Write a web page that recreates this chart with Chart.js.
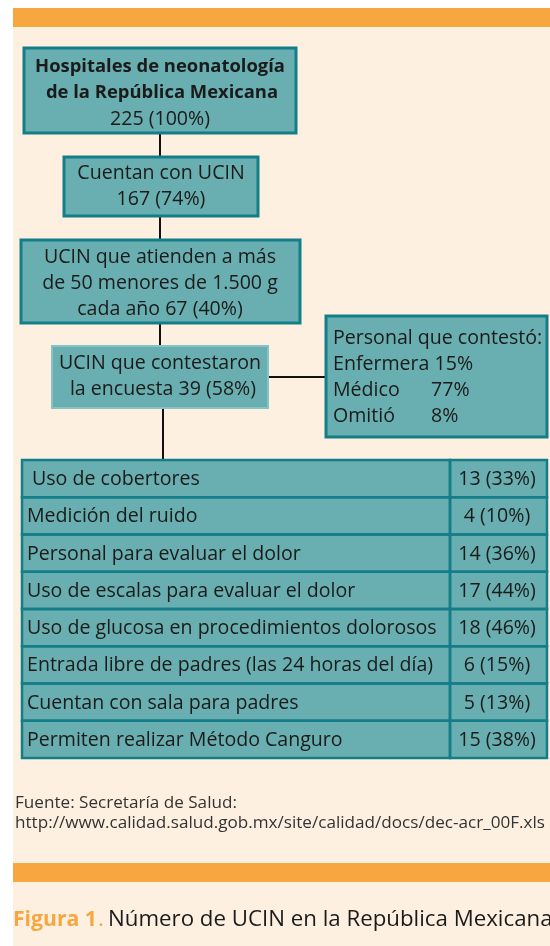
<!DOCTYPE html>
<html><head><meta charset="utf-8">
<script src="https://cdn.jsdelivr.net/npm/chart.js@4.4.1/dist/chart.umd.min.js"></script>
<style>html,body{margin:0;padding:0;background:#fff;overflow:hidden}canvas{display:block}</style>
</head><body>
<canvas id="c" width="550" height="946"></canvas>
<script>
// ---- data ----
const flowTitle = ['Hospitales de neonatología', 'de la República Mexicana'];
const flowLabels = [
  ['Cuentan con UCIN'],
  ['UCIN que atienden a más', 'de 50 menores de 1.500 g', 'cada año'],
  ['UCIN que contestaron', 'la encuesta']
];
const flowCounts = [225, 167, 67, 39];
const flowPercents = [100, 74, 40, 58];
const staffTitle = 'Personal que contestó:';
const staffLabels = ['Enfermera', 'Médico', 'Omitió'];
const staffPercents = [15, 77, 8];
const practiceLabels = [
  'Uso de cobertores',
  'Medición del ruido',
  'Personal para evaluar el dolor',
  'Uso de escalas para evaluar el dolor',
  'Uso de glucosa en procedimientos dolorosos',
  'Entrada libre de padres (las 24 horas del día)',
  'Cuentan con sala para padres',
  'Permiten realizar Método Canguro'
];
const practiceCounts = [13, 4, 14, 17, 18, 6, 5, 15];
const practicePercents = [33, 10, 36, 44, 46, 15, 13, 38];
const sourceLines = ['Fuente: Secretaría de Salud:', 'http://www.calidad.salud.gob.mx/site/calidad/docs/dec-acr_00F.xls'];
const captionLead = 'Figura 1';
const captionText = 'Número de UCIN en la República Mexicana';

// ---- style ----
const FONT = 'Open Sans';
const TEAL = '#69AEB0';
const TEAL_DARK = '#137E88';
const TEAL_LIGHT = '#86C3C4';
const CREAM = '#FEF0E1';
const ORANGE = '#F8A640';
const INK = '#1B1B1B';

function fontStr(size, weight) { return (weight || 'normal') + ' ' + size + 'px "' + FONT + '"'; }
function fitSize(ctx, s, target, weight) {
  ctx.font = fontStr(20, weight);
  return 20 * target / ctx.measureText(s).width;
}
function measure(ctx, s, size, weight) { ctx.font = fontStr(size, weight); return ctx.measureText(s).width; }
function box(ctx, x0, y0, x1, y1, border, lw) {
  ctx.fillStyle = TEAL;
  ctx.fillRect(x0, y0, x1 - x0, y1 - y0);
  ctx.strokeStyle = border;
  ctx.lineWidth = lw;
  ctx.strokeRect(x0, y0, x1 - x0, y1 - y0);
}
function text(ctx, s, x, y, size, align, weight, color) {
  ctx.font = fontStr(size, weight);
  ctx.fillStyle = color || INK;
  ctx.textAlign = align || 'center';
  ctx.textBaseline = 'middle';
  ctx.fillText(s, x, y);
}
function line(ctx, x0, y0, x1, y1) {
  ctx.strokeStyle = '#111';
  ctx.lineWidth = 2;
  ctx.beginPath(); ctx.moveTo(x0, y0); ctx.lineTo(x1, y1); ctx.stroke();
}

const diagram = {
  id: 'diagram',
  beforeDraw(chart) {
    const ctx = chart.ctx;
    ctx.save();
    ctx.fillStyle = '#fff'; ctx.fillRect(0, 0, 550, 946);
    ctx.fillStyle = CREAM; ctx.fillRect(13, 8, 537, 938);
    ctx.fillStyle = ORANGE; ctx.fillRect(13, 8, 537, 19);
    ctx.fillRect(13, 863, 537, 19);

    // connectors
    line(ctx, 160, 133, 160, 157);
    line(ctx, 160, 216, 160, 240);
    line(ctx, 160, 323, 160, 346);
    line(ctx, 268, 377, 325, 377);
    line(ctx, 163, 408, 163, 461);

    const FS = fitSize(ctx, practiceLabels[4], 410);
    const FSB = fitSize(ctx, flowTitle[0], 250, 'bold');
    // box 1
    box(ctx, 24, 48, 296, 133, TEAL_DARK, 3);
    text(ctx, flowTitle[0], 160, 67, FSB, 'center', 'bold');
    text(ctx, flowTitle[1], 162, 93, FSB, 'center', 'bold');
    text(ctx, flowCounts[0] + ' (' + flowPercents[0] + '%)', 160, 119, FS);
    // box 2
    box(ctx, 64, 157, 258, 216, TEAL_DARK, 3);
    text(ctx, flowLabels[0][0], 161, 173, FS);
    text(ctx, flowCounts[1] + ' (' + flowPercents[1] + '%)', 161, 199, FS);
    // box 3
    box(ctx, 21, 240, 300, 323, TEAL_DARK, 3);
    text(ctx, flowLabels[1][0], 160, 257, FS);
    text(ctx, flowLabels[1][1], 160, 283, FS);
    text(ctx, flowLabels[1][2] + ' ' + flowCounts[2] + ' (' + flowPercents[2] + '%)', 160, 309, FS);
    // box 4
    box(ctx, 52, 346, 268, 408, TEAL_LIGHT, 2);
    text(ctx, flowLabels[2][0], 160, 363, FS);
    text(ctx, flowLabels[2][1] + ' ' + flowCounts[3] + ' (' + flowPercents[3] + '%)', 163, 389, FS);
    // staff box
    box(ctx, 326, 316, 547, 437, TEAL_DARK, 3);
    text(ctx, staffTitle, 333, 338, FS, 'left');
    const sp = measure(ctx, ' ', FS);
    staffLabels.forEach((l, i) => {
      const w = measure(ctx, l, FS);
      text(ctx, l, 333, 364 + i * 26, FS, 'left');
      text(ctx, staffPercents[i] + '%', Math.max(431, 333 + w + sp), 364 + i * 26, FS, 'left');
    });

    // table rows, positioned by the category scale
    const ys = chart.scales.y;
    const area = chart.chartArea;
    const band = (area.bottom - area.top) / practiceLabels.length;
    const colX = 450;
    ctx.fillStyle = TEAL;
    ctx.fillRect(area.left, area.top, area.right - area.left, area.bottom - area.top);
    ctx.strokeStyle = TEAL_DARK; ctx.lineWidth = 2.5;
    practiceLabels.forEach((l, i) => {
      const yc = ys.getPixelForValue(i);
      const y0 = yc - band / 2;
      ctx.strokeRect(area.left, y0, colX - area.left, band);
      ctx.strokeRect(colX, y0, area.right - colX, band);
      text(ctx, l, area.left + (i === 0 ? 10 : 5), yc + 1, FS, 'left');
      text(ctx, practiceCounts[i] + ' (' + practicePercents[i] + '%)', 497, yc + 1, FS);
    });

    // source
    const FF = fitSize(ctx, sourceLines[0], 222);
    text(ctx, sourceLines[0], 15, 803, FF, 'left', 'normal', '#333');
    text(ctx, sourceLines[1], 15, 823, FF, 'left', 'normal', '#333');

    // caption
    const FC = fitSize(ctx, captionText, 445);
    const FCB = fitSize(ctx, captionLead, 84, 'bold');
    text(ctx, captionLead, 13, 920, FCB, 'left', 'bold', ORANGE);
    text(ctx, '.', 98, 920, FC, 'left', 'normal', ORANGE);
    text(ctx, captionText, 108, 920, FC, 'left', 'normal', INK);
    ctx.restore();
  }
};

new Chart(document.getElementById('c'), {
  type: 'bar',
  data: {
    labels: practiceLabels,
    datasets: [{ data: practiceCounts, backgroundColor: 'rgba(0,0,0,0)', borderWidth: 0 }]
  },
  options: {
    indexAxis: 'y',
    responsive: false,
    animation: false,
    devicePixelRatio: 1,
    layout: { padding: { left: 22, right: 3, top: 460, bottom: 188 } },
    plugins: { legend: { display: false }, tooltip: { enabled: false }, title: { display: false } },
    scales: {
      x: { display: false, min: 0, max: 20 },
      y: { display: false }
    }
  },
  plugins: [diagram]
});
</script>
</body></html>
